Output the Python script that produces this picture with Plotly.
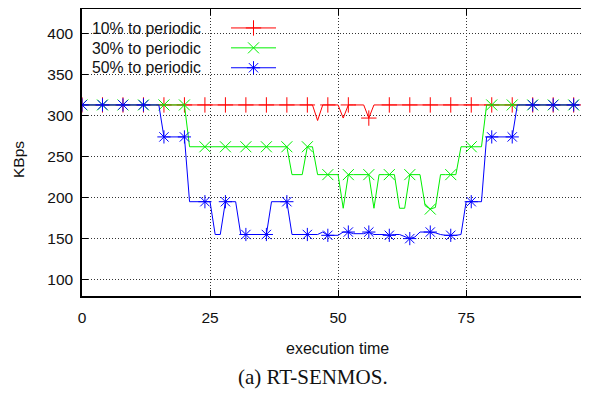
import plotly.graph_objects as go

# execution time (one sample per unit)
exec_time = list(range(98))

# KBps, 10% to periodic
kbps_10 = [313, 313, 313, 313, 313, 313, 313, 313, 313, 313,
           313, 313, 313, 313, 313, 313, 313, 313, 313, 313,
           313, 313, 313, 313, 313, 313, 313, 313, 313, 313,
           313, 313, 313, 313, 313, 313, 313, 313, 313, 313,
           313, 313, 313, 313, 313, 313, 294, 313, 313, 313,
           313, 297, 313, 313, 313, 313, 297, 313, 313, 313,
           313, 313, 313, 313, 313, 313, 313, 313, 313, 313,
           313, 313, 313, 313, 313, 313, 313, 313, 313, 313,
           313, 313, 313, 313, 313, 313, 313, 313, 313, 313,
           313, 313, 313, 313, 313, 313, 313, 313]

# KBps, 30% to periodic
kbps_30 = [313, 313, 313, 313, 313, 313, 313, 313, 313, 313,
           313, 313, 313, 313, 313, 313, 313, 313, 313, 313,
           313, 262, 262, 262, 262, 262, 262, 262, 262, 262,
           262, 262, 262, 262, 262, 262, 262, 262, 262, 262,
           262, 228, 228, 228, 262, 262, 228, 228, 228, 228,
           228, 187, 228, 228, 228, 228, 228, 187, 228, 228,
           228, 228, 187, 187, 228, 228, 228, 190, 186, 188,
           228, 228, 228, 228, 262, 262, 262, 262, 262, 313,
           313, 313, 313, 313, 313, 313, 313, 313, 313, 313,
           313, 313, 313, 313, 313, 313, 313, 313]

# KBps, 50% to periodic
kbps_50 = [313, 313, 313, 313, 313, 313, 313, 313, 313, 313,
           313, 313, 313, 313, 313, 313, 274, 274, 274, 274,
           274, 195, 195, 195, 195, 195, 155, 155, 195, 195,
           195, 155, 155, 155, 155, 155, 155, 195, 195, 195,
           195, 155, 155, 155, 155, 155, 155, 158, 154, 154,
           154, 158, 158, 156, 156, 156, 158, 155, 155, 155,
           154, 155, 155, 152, 150, 152, 158, 158, 158, 157,
           155, 154, 154, 154, 155, 195, 195, 195, 195, 274,
           274, 274, 274, 274, 274, 313, 313, 313, 313, 313,
           313, 313, 313, 313, 313, 313, 313, 313]

series_names = ["10% to periodic", "30% to periodic", "50% to periodic"]
series_values = [kbps_10, kbps_30, kbps_50]
series_colors = ["#ff0000", "#00f000", "#0000ff"]
series_symbols = ["cross-thin", "x-thin", "asterisk"]

x_ticks = [0, 25, 50, 75]
y_ticks = [100, 150, 200, 250, 300, 350, 400]

FONT = "Liberation Sans, Arial, sans-serif"
MARK_EVERY = 4

fig = go.Figure()
for name, vals, col, sym in zip(series_names, series_values, series_colors, series_symbols):
    fig.add_trace(go.Scatter(x=exec_time, y=vals, mode="lines",
                             line=dict(color=col, width=1), showlegend=False,
                             hoverinfo="skip"))
    fig.add_trace(go.Scatter(x=exec_time[::MARK_EVERY], y=vals[::MARK_EVERY], mode="markers",
                             marker=dict(symbol=sym, size=11, color=col,
                                         line=dict(color=col, width=1)),
                             showlegend=False, name=name))
    # legend key only (its text is drawn on the left, as in the original)
    fig.add_trace(go.Scatter(x=[None], y=[None], mode="lines+markers", name=" ",
                             line=dict(color=col, width=1),
                             marker=dict(symbol=sym, size=11, color=col,
                                         line=dict(color=col, width=1))))

# page body has an 8px margin: work in page pixels, convert to figure pixels
OFF = 8
W, H = 579, 387
L, T = 82 - OFF, 9 - OFF
plot_right, plot_bottom = 587 - OFF, 296 - OFF
R, B = W - plot_right, H - plot_bottom
pw, ph = plot_right - L, plot_bottom - T


def px_x(p):
    return (p - OFF - L) / pw


def px_y(p):
    return 1 - (p - OFF - T) / ph


fig.update_layout(
    width=W, height=H,
    margin=dict(l=L, r=R, t=T, b=B),
    paper_bgcolor="white", plot_bgcolor="white",
    font=dict(family=FONT, size=15.5, color="#111"),
    showlegend=True,
    legend=dict(x=px_x(226), y=px_y(13), xanchor="left", yanchor="top",
                bgcolor="rgba(0,0,0,0)", font=dict(size=13, family=FONT),
                itemwidth=45, tracegroupgap=0, borderwidth=0),
    xaxis=dict(range=[0, 98.6], tickvals=x_ticks, ticktext=[str(v) for v in x_ticks],
               showgrid=True, gridcolor="#333", griddash="1px,2px", gridwidth=1,
               zeroline=False, showline=True, linecolor="black", linewidth=1.5,
               mirror="allticks", ticks="inside", ticklen=6, tickcolor="black",
               tickwidth=1, ticklabelstandoff=7, tickfont=dict(size=15.5)),
    yaxis=dict(range=[80, 430], tickvals=y_ticks, ticktext=[str(v) for v in y_ticks],
               showgrid=True, gridcolor="#333", griddash="1px,2px", gridwidth=1,
               zeroline=False, showline=True, linecolor="black", linewidth=1.5,
               mirror=False, ticks="inside", ticklen=6, tickcolor="black",
               tickwidth=1, ticklabelstandoff=4, tickfont=dict(size=15.5)),
)

annotations = []
for i, name in enumerate(series_names):
    annotations.append(dict(text=name, x=px_x(90), y=px_y(28 + 20 * i), xref="paper", yref="paper",
                            xanchor="left", yanchor="middle", showarrow=False,
                            font=dict(size=15.8, family=FONT, color="#111")))
annotations.append(dict(text="execution time", x=px_x(337), y=px_y(348), xref="paper", yref="paper",
                        xanchor="center", yanchor="middle", showarrow=False,
                        font=dict(size=16, family=FONT, color="#111")))
annotations.append(dict(text="KBps", x=px_x(18), y=px_y(160), xref="paper", yref="paper",
                        xanchor="center", yanchor="middle", showarrow=False, textangle=-90,
                        font=dict(size=15.5, family=FONT, color="#111")))
annotations.append(dict(text="(a) RT-SENMOS.", x=px_x(313), y=px_y(377), xref="paper", yref="paper",
                        xanchor="center", yanchor="middle", showarrow=False,
                        font=dict(size=21, family="Liberation Serif, Times New Roman, serif",
                                  color="#111")))
fig.update_layout(annotations=annotations)

fig.write_html("out.html")
